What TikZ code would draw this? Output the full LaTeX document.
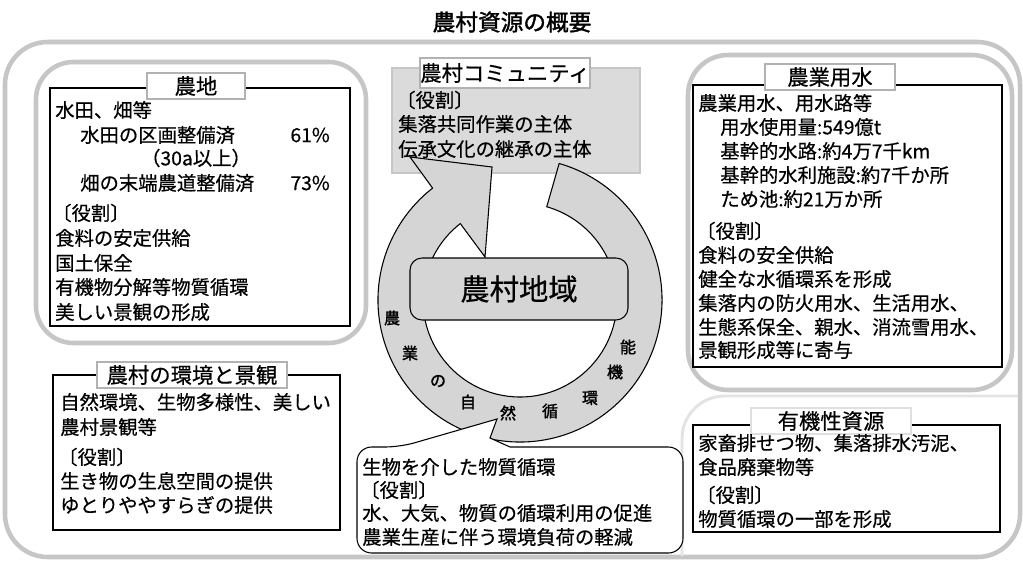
\documentclass[tikz,border=0pt]{standalone}
\usepackage{fontspec}
\setmainfont{Noto Sans CJK JP}[FakeBold=0.5]
\newfontfamily\heavyjp{Noto Sans CJK JP}[FakeBold=1.6]
\usetikzlibrary{calc}
\newcommand{\fsz}[1]{\fontsize{#1}{#1}\selectfont}
\begin{document}
\begin{tikzpicture}[x=0.75pt,y=-0.75pt,
  region/.style={draw=gray!45,line width=3.4pt,rounded corners=32pt},
  lightregion/.style={draw=gray!22,line width=2.2pt,rounded corners=32pt},
  infobox/.style={draw=black,line width=0.8pt},
  tabbox/.style={draw=gray!60,line width=1.5pt,fill=white,inner sep=0pt,font=\fsz{16pt}},
  tx/.style={anchor=west,inner sep=0pt,font=\fsz{14.5pt}},
  ringch/.style={inner sep=0pt,font=\heavyjp\fsz{12pt}},
  graybox/.style={fill=gray!28,draw=gray!45,line width=0.8pt},
  ringfill/.style={fill=gray!33,draw=black,line width=0.8pt},
  callout/.style={fill=white,draw=black,line width=0.8pt}
]
\useasboundingbox (0,0) rectangle (1023,563);
\fill[white] (0,0) rectangle (1023,563);

% title
\node[inner sep=0pt,font=\heavyjp\fsz{17pt}] (title) at (512,22) {農村資源の概要};

% frames
\draw[region] (5,42) rectangle (1020,557);
\draw[region,rounded corners=28pt] (36,62) rectangle (366,343);
\draw[region,rounded corners=30pt] (688,55) rectangle (1012,390);
\draw[lightregion] (682,556) |- (1018,396);

% ---------- 農地 ----------
\draw[infobox] (50,88) rectangle (350,326);
\node[tabbox,minimum width=73pt,minimum height=19pt] (tabA) at (196,86) {農地};
\node[tx] (a1) at (55,110) {水田、畑等};
\node[tx] (a2) at (80,135) {水田の区画整備済};
\node[tx,anchor=east] (a2p) at (330,135) {61\%};
\node[inner sep=0pt,font=\fsz{14.5pt}] (a3) at (196,158) {（30a以上）};
\node[tx] (a4) at (80,183) {畑の末端農道整備済};
\node[tx,anchor=east] (a4p) at (330,183) {73\%};
\node[tx] (a5) at (52,213) {〔役割〕};
\node[tx] (a6) at (55,238) {食料の安定供給};
\node[tx] (a7) at (55,263) {国土保全};
\node[tx] (a8) at (55,287) {有機物分解等物質循環};
\node[tx] (a9) at (55,312) {美しい景観の形成};

% ---------- 農村コミュニティ ----------
\draw[graybox] (392,68) rectangle (640,173);
\node[tabbox,minimum width=115pt,minimum height=22pt] (tabB) at (505,73) {農村コミュニティ};
\node[tx] (b1) at (396,100) {〔役割〕};
\node[tx] (b2) at (398,124) {集落共同作業の主体};
\node[tx] (b3) at (398,149) {伝承文化の継承の主体};

% ---------- ring ----------
\coordinate (rc) at (520,300);
\draw[ringfill] ($(rc)+(-74:142)$) arc[start angle=-74,end angle=232,radius=142]
  -- (410,157) -- (492,167) -- (485,257) -- ($(rc)+(232:97)$)
  arc[start angle=232,end angle=-74,radius=97] -- cycle;

\draw[ringfill,rounded corners=9pt] (410,258) rectangle (628,320);
\node[inner sep=0pt,font=\fsz{22pt}] (region) at (519,289) {農村地域};

\node[ringch] (r1) at (392,318) {農};
\node[ringch] (r2) at (410,353) {業};
\node[ringch] (r3) at (438,381) {の};
\node[ringch] (r4) at (468,402) {自};
\node[ringch] (r5) at (508,413) {然};
\node[ringch] (r6) at (550,411) {循};
\node[ringch] (r7) at (590,398) {環};
\node[ringch] (r8) at (615,372) {機};
\node[ringch] (r9) at (628,347) {能};

% ---------- callout ----------
\draw[callout] (497,419) -- (490,438) -- (510,447) [rounded corners=11pt] -| (683,553) -| (357,447) -- (400,447) [sharp corners] -- cycle;
\node[tx] (c1) at (362,467) {生物を介した物質循環};
\node[tx] (c2) at (360,490) {〔役割〕};
\node[tx] (c3) at (362,513) {水、大気、物質の循環利用の促進};
\node[tx] (c4) at (362,537) {農業生産に伴う環境負荷の軽減};

% ---------- 農業用水 ----------
\draw[infobox] (693,85) rectangle (1002,367);
\node[tabbox,minimum width=97pt,minimum height=19pt] (tabD) at (830,77) {農業用水};
\node[tx] (d1) at (698,103) {農業用水、用水路等};
\node[tx] (d2) at (720,127) {用水使用量:549億t};
\node[tx] (d3) at (720,151) {基幹的水路:約4万7千km};
\node[tx] (d4) at (720,175) {基幹的水利施設:約7千か所};
\node[tx] (d5) at (720,199) {ため池:約21万か所};
\node[tx] (d6) at (696,231) {〔役割〕};
\node[tx] (d7) at (698,255) {食料の安全供給};
\node[tx] (d8) at (698,279) {健全な水循環系を形成};
\node[tx] (d9) at (698,303) {集落内の防火用水、生活用水、};
\node[tx] (d10) at (698,327) {生態系保全、親水、消流雪用水、};
\node[tx] (d11) at (698,350) {景観形成等に寄与};

% ---------- 農村の環境と景観 ----------
\draw[infobox] (53,375) rectangle (340,530);
\node[tabbox,minimum width=142pt,minimum height=19pt] (tabE) at (192,375) {農村の環境と景観};
\node[tx] (e1) at (60,402) {自然環境、生物多様性、美しい};
\node[tx] (e2) at (60,427) {農村景観等};
\node[tx] (e3) at (58,457) {〔役割〕};
\node[tx] (e4) at (60,481) {生き物の生息空間の提供};
\node[tx] (e5) at (60,505) {ゆとりややすらぎの提供};

% ---------- 有機性資源 ----------
\draw[infobox] (693,425) rectangle (1000,532);
\node[tabbox,draw=gray!25,minimum width=120pt,minimum height=19pt] (tabF) at (831,421) {有機性資源};
\node[tx] (f1) at (698,443) {家畜排せつ物、集落排水汚泥、};
\node[tx] (f2) at (698,467) {食品廃棄物等};
\node[tx] (f3) at (696,495) {〔役割〕};
\node[tx] (f4) at (698,519) {物質循環の一部を形成};
\end{tikzpicture}
\end{document}
